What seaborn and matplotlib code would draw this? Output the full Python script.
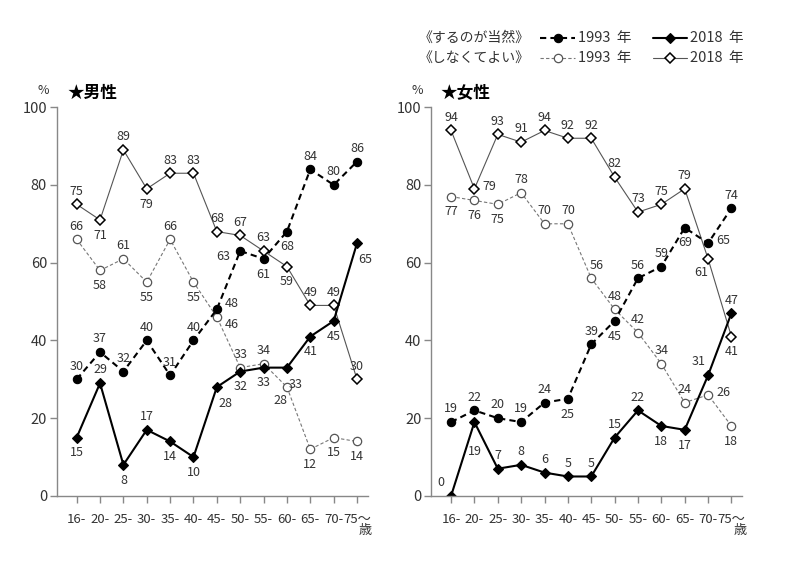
import matplotlib
matplotlib.use('Agg')
import matplotlib.pyplot as plt
from matplotlib.lines import Line2D
import seaborn as sns
import pandas as pd

ages = ['16-', '20-', '25-', '30-', '35-', '40-', '45-', '50-', '55-', '60-', '65-', '70-', '75～']

men_should_1993 = [30, 37, 32, 40, 31, 40, 48, 63, 61, 68, 84, 80, 86]
men_should_2018 = [15, 29, 8, 17, 14, 10, 28, 32, 33, 33, 41, 45, 65]
men_not_1993 = [66, 58, 61, 55, 66, 55, 46, 33, 34, 28, 12, 15, 14]
men_not_2018 = [75, 71, 89, 79, 83, 83, 68, 67, 63, 59, 49, 49, 30]

women_should_1993 = [19, 22, 20, 19, 24, 25, 39, 45, 56, 59, 69, 65, 74]
women_should_2018 = [0, 19, 7, 8, 6, 5, 5, 15, 22, 18, 17, 31, 47]
women_not_1993 = [77, 76, 75, 78, 70, 70, 56, 48, 42, 34, 24, 26, 18]
women_not_2018 = [94, 79, 93, 91, 94, 92, 92, 82, 73, 75, 79, 61, 41]

# where each value label sits relative to its marker
men_pos = {
    'should_1993': ['a', 'a', 'a', 'a', 'a', 'a', 'ru', 'l', 'b', 'b', 'a', 'a', 'a'],
    'should_2018': ['b', 'a', 'b', 'a', 'b', 'b', 'br', 'b', 'b', 'br', 'b', 'b', 'br'],
    'not_1993': ['a', 'b', 'a', 'b', 'a', 'b', 'rd', 'a', 'a', 'bl', 'b', 'b', 'b'],
    'not_2018': ['a', 'b', 'a', 'b', 'a', 'a', 'a', 'a', 'a', 'b', 'a', 'a', 'a'],
}
women_pos = {
    'should_1993': ['a', 'a', 'a', 'a', 'a', 'b', 'a', 'b', 'a', 'a', 'b', 'r', 'a'],
    'should_2018': ['al', 'b2', 'a', 'a', 'a', 'a', 'a', 'a', 'a', 'b', 'b', 'al', 'a'],
    'not_1993': ['b', 'b', 'b', 'a', 'a', 'a', 'ar', 'a', 'a', 'a', 'a', 'r', 'b'],
    'not_2018': ['a', 'r', 'a', 'a', 'a', 'a', 'a', 'a', 'a', 'a', 'a', 'bl', 'b'],
}

OFFSETS = {
    'a': (0, 9.5), 'b': (0, -11), 'b2': (0, -21), 'r': (11, 2), 'l': (-12, -4),
    'ru': (11, 4), 'rd': (11, -5),
    'br': (6, -12), 'bl': (-5, -10), 'al': (-7, 10), 'ar': (4, 9),
}

STYLES = {
    'not_1993': dict(color='#777777', linestyle=(0, (3, 2)), linewidth=0.8, marker='o',
                     markersize=6, markerfacecolor='white', markeredgecolor='#555555',
                     markeredgewidth=0.9),
    'not_2018': dict(color='#555555', linestyle='-', linewidth=0.8, marker='D',
                     markersize=5.2, markerfacecolor='white', markeredgecolor='black',
                     markeredgewidth=1.1),
    'should_1993': dict(color='black', linestyle=(0, (3, 2)), linewidth=1.5, marker='o',
                        markersize=6, markerfacecolor='black', markeredgecolor='black',
                        markeredgewidth=0.8),
    'should_2018': dict(color='black', linestyle='-', linewidth=1.5, marker='D',
                        markersize=5.4, markerfacecolor='black', markeredgecolor='black',
                        markeredgewidth=0.8),
}

sns.set_theme(style='ticks')
plt.rcParams['font.family'] = ['Noto Sans CJK JP', 'DejaVu Sans']
TXT = '#333333'
GRID = '#888888'

fig = plt.figure(figsize=(8, 5.61), dpi=100)


def panel(ax, series, pos):
    x = list(range(len(ages)))
    for key in ['not_1993', 'not_2018', 'should_1993', 'should_2018']:
        df = pd.DataFrame({'x': x, 'y': series[key]})
        sns.lineplot(data=df, x='x', y='y', ax=ax, errorbar=None, **STYLES[key])
        for xi, v, p in zip(x, series[key], pos[key]):
            ax.annotate(str(v), (xi, v), xytext=OFFSETS[p], textcoords='offset points',
                        ha='center', va='center', fontsize=9, color=TXT)
    ax.set_xlim(-0.85, 12.47)
    ax.set_ylim(0, 100)
    ax.set_xticks(x, ages)
    ax.set_yticks(range(0, 101, 20))
    ax.set_xlabel('')
    ax.set_ylabel('')
    sns.despine(ax=ax)
    for s in ['left', 'bottom']:
        ax.spines[s].set_color(GRID)
        ax.spines[s].set_linewidth(1)
    ax.tick_params(direction='out', length=5, width=1, color=GRID,
                   labelsize=10.5, labelcolor=TXT, pad=2)
    ax.tick_params(axis='x', labelsize=9.5, pad=7)
    ax.annotate('歳', (12, 0), xytext=(6, -25), textcoords='offset points',
                ha='center', va='center', fontsize=9.5, color=TXT)


ax1 = fig.add_axes([0.071, 0.116, 0.389, 0.693])
panel(ax1, {'should_1993': men_should_1993, 'should_2018': men_should_2018,
            'not_1993': men_not_1993, 'not_2018': men_not_2018}, men_pos)
ax2 = fig.add_axes([0.539, 0.116, 0.389, 0.693])
panel(ax2, {'should_1993': women_should_1993, 'should_2018': women_should_2018,
            'not_1993': women_not_1993, 'not_2018': women_not_2018}, women_pos)

fig.text(43 / 800, 1 - 90 / 561, '%', ha='center', va='center', fontsize=9, color=TXT)
fig.text(67 / 800, 1 - 93 / 561, '★男性', ha='left', va='center', fontsize=12,
         weight='bold', color='black')
fig.text(417 / 800, 1 - 90 / 561, '%', ha='center', va='center', fontsize=9, color=TXT)
fig.text(440 / 800, 1 - 93 / 561, '★女性', ha='left', va='center', fontsize=12,
         weight='bold', color='black')

# legend block
rows = [(1 - 38 / 561, '《するのが当然》', 'should'), (1 - 58 / 561, '《しなくてよい》', 'not')]
for y, label, grp in rows:
    fig.text(419 / 800, y, label, ha='left', va='center', fontsize=10, color=TXT)
    for (x0, x1, xt), yr in [((540, 575, 578), '1993'), ((653, 687, 690), '2018')]:
        st = STYLES[grp + '_' + yr]
        fig.add_artist(Line2D([x0 / 800, x1 / 800], [y, y], transform=fig.transFigure,
                              color=st['color'], linestyle=st['linestyle'],
                              linewidth=st['linewidth']))
        fig.add_artist(Line2D([(x0 + x1) / 2 / 800], [y], transform=fig.transFigure,
                              linestyle='none', marker=st['marker'],
                              markersize=st['markersize'],
                              markerfacecolor=st['markerfacecolor'],
                              markeredgecolor=st['markeredgecolor'],
                              markeredgewidth=st['markeredgewidth']))
        fig.text(xt / 800, y, yr + '  年', ha='left', va='center', fontsize=10.5, color=TXT)

fig.savefig('out.png', dpi=100)
